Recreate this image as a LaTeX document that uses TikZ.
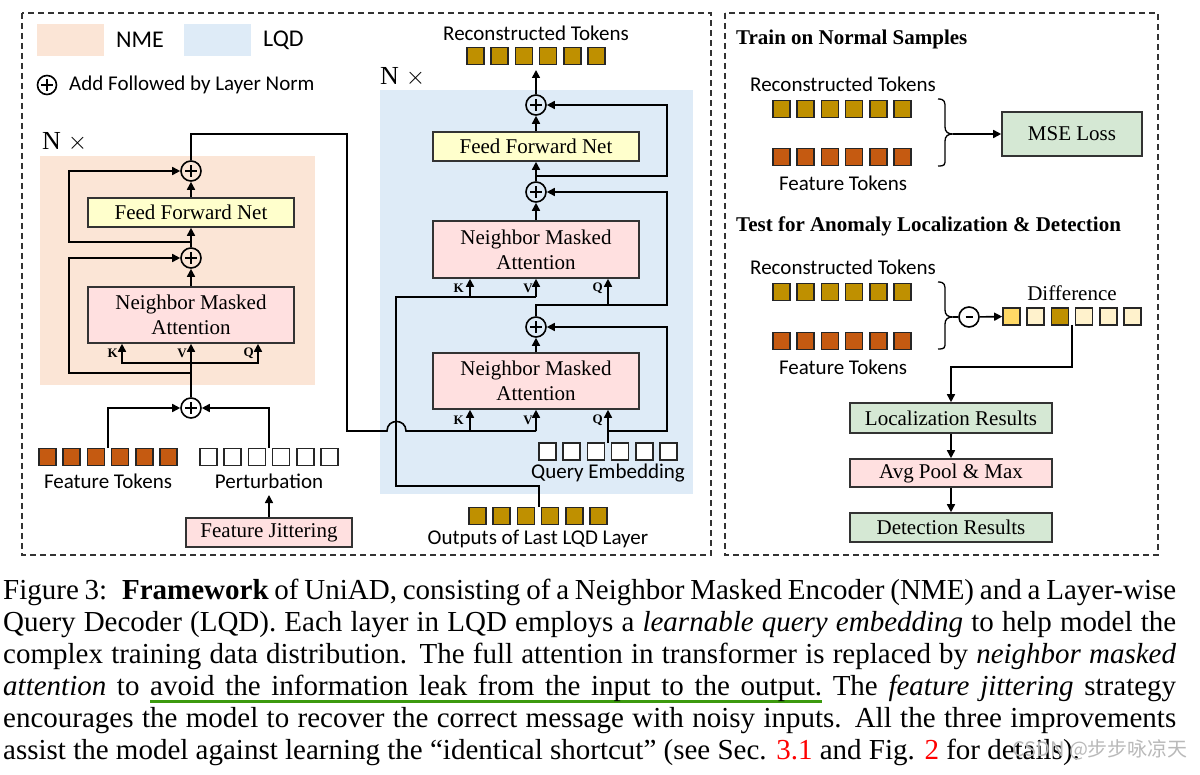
\documentclass[tikz,border=0pt]{standalone}
\usepackage{fontspec}
\setmainfont{Liberation Serif}
\newfontfamily\calib{Carlito}
\newfontfamily\cjkf{Noto Sans CJK SC}
\usetikzlibrary{arrows.meta}
\definecolor{nmebg}{HTML}{FBE5D6}
\definecolor{lqdbg}{HTML}{DEEBF7}
\definecolor{ffn}{HTML}{FFFFCC}
\definecolor{nma}{HTML}{FFE0E0}
\definecolor{gold}{HTML}{BF9000}
\definecolor{orng}{HTML}{C55A11}
\definecolor{grn}{HTML}{D5E8D4}
\definecolor{diffa}{HTML}{FFD966}
\definecolor{diffb}{HTML}{FFF2CC}
\definecolor{ulgreen}{HTML}{3C9A0E}
\newsavebox\ulbox
\newcommand\uw[1]{\sbox\ulbox{#1}\rlap{\textcolor{ulgreen}{\rule[-7pt]{\wd\ulbox}{3pt}}}\usebox\ulbox}
\newcommand\us{{\color{ulgreen}\leaders\hrule height -4pt depth 7pt\hskip\fontdimen2\font plus\fontdimen3\font minus\fontdimen4\font}}
\newcommand\tokrow[4]{\foreach \i in {1,...,6}{\node[tok,fill=#4] (#1\i) at ({#2+8.5+(\i-1)*24.2},#3) {};}}
\tikzset{
 ln/.style={line width=1.6pt, draw=black},
 arr/.style={ln, -{Triangle[length=8pt,width=8pt]}},
 box/.style={draw=black!80, line width=1.6pt, inner sep=0pt, font=\fontsize{21}{25}\selectfont, align=center},
 tok/.style={draw=black!85, line width=1.6pt, minimum size=17pt, inner sep=0pt},
 plus/.style={circle, draw, line width=1.6pt, minimum size=20pt, inner sep=0pt,
   path picture={\draw[line width=1.7pt] (path picture bounding box.center) ++(-6pt,0) -- ++(12pt,0) (path picture bounding box.center) ++(0,-6pt) -- ++(0,12pt);}},
 minus/.style={circle, draw, line width=1.6pt, minimum size=20pt, inner sep=0pt,
   path picture={\draw[line width=1.8pt] (path picture bounding box.center) ++(-3.5pt,0) -- ++(7pt,0);}},
 lbl/.style={font=\calib\fontsize{21}{24}\selectfont, inner sep=0pt},
 kv/.style={font=\bfseries\fontsize{13}{14}\selectfont, inner sep=0pt},
 nx/.style={font=\fontsize{26}{28}\selectfont, inner sep=0pt},
 frame/.style={draw=black!80, line width=1.3pt, dash pattern=on 6pt off 4pt},
 head/.style={font=\bfseries\fontsize{21}{24}\selectfont, inner sep=0pt},
}
\begin{document}
\begin{tikzpicture}[x=1pt,y=-1pt]
\useasboundingbox (0,0) rectangle (1200,775);
% frames
\draw[frame] (22,13) rectangle (711,555);
\draw[frame] (725,13) rectangle (1158,555);
% backgrounds
\fill[nmebg] (40,156) rectangle (315,385);
\fill[lqdbg] (380,90) rectangle (693,494);
% legend
\fill[nmebg] (37,24) rectangle (104,56);
\node[lbl, font=\calib\fontsize{24}{26}\selectfont, anchor=west] (lnme) at (116,40) {NME};
\fill[lqdbg] (184,24) rectangle (251,56);
\node[lbl, font=\calib\fontsize{24}{26}\selectfont, anchor=west] (llqd) at (263,40) {LQD};
\node[plus, minimum size=19pt] (lplus) at (47,85) {};
\node[lbl, anchor=west] (ladd) at (69,85) {Add Followed by Layer Norm};
% ---------- NME ----------
\node[nx, anchor=west] (nxl) at (42,142) {N\hspace{7pt}$\times$};
\node[plus] (opA) at (191,171) {};
\node[box, fill=ffn, minimum width=206pt, minimum height=29pt] (ffnL) at (191,212.5) {Feed Forward Net};
\node[plus] (opB) at (191,258) {};
\node[box, fill=nma, minimum width=206pt, minimum height=56pt] (nmaL) at (191,315) {Neighbor Masked\\Attention};
\node[plus] (opC) at (191,408) {};
\node[kv, anchor=east] (kL) at (118,353) {K};
\node[kv, anchor=east] (vL) at (187,353) {V};
\node[kv, anchor=east] (qL) at (254,353) {Q};
\coordinate (kvL) at (191,363);
\draw[arr] (opC) -- (nmaL);
\draw[arr] (kvL) -| ([xshift=-69pt]nmaL.south);
\draw[arr] (kvL) -| ([xshift=67pt]nmaL.south);
\coordinate (resB) at (191,373);
\draw[arr] (resB) -- ++(-122,0) |- (opB);
\draw[arr] (nmaL) -- (opB);
\draw[arr] (opB) -- (ffnL);
\coordinate (resA) at (191,242);
\draw[arr] (resA) -- ++(-122,0) |- (opA);
\draw[arr] (ffnL) -- (opA);
% inputs
\tokrow{ft}{39}{457}{orng}
\tokrow{pt}{200}{457}{white}
\node[lbl] (ftl) at (108,481) {Feature Tokens};
\node[lbl] (ptl) at (269,481) {Perturbation};
\node[box, fill=nma, minimum width=166pt, minimum height=29pt] (fj) at (269,532.5) {Feature Jittering};
\coordinate (ftTop) at (108,448);
\coordinate (ptTop) at (269,448);
\coordinate (ptlBot) at (269,495);
\draw[arr] (ftTop) |- (opC);
\draw[arr] (ptTop) |- (opC);
\draw[arr] (fj) -- (ptlBot);
% ---------- LQD ----------
\node[nx, anchor=west] (nxr) at (380,77) {N\hspace{7pt}$\times$};
\node[plus] (opF) at (536,105) {};
\node[box, fill=ffn, minimum width=206pt, minimum height=29pt] (ffnR) at (536,146.5) {Feed Forward Net};
\node[plus] (opE) at (536,192) {};
\node[box, fill=nma, minimum width=206pt, minimum height=57pt] (nmaU) at (536,249.5) {Neighbor Masked\\Attention};
\node[plus] (opD) at (536,327) {};
\node[box, fill=nma, minimum width=206pt, minimum height=56pt] (nmaD) at (536,381) {Neighbor Masked\\Attention};
\node[kv, anchor=east] (kU) at (464,288) {K};
\node[kv, anchor=east] (vU) at (533,288) {V};
\node[kv, anchor=east] (qUl) at (603,288) {Q};
\node[kv, anchor=east] (kDl) at (464,420) {K};
\node[kv, anchor=east] (vDl) at (533,420) {V};
\node[kv, anchor=east] (qDl) at (603,420) {Q};
\tokrow{qe}{539}{451.5}{white}
\node[lbl] (qel) at (608,473) {Query Embedding};
\tokrow{ol}{469}{516}{gold}
\node[lbl] (oll) at (538,539) {Outputs of Last LQD Layer};
\tokrow{rt}{467}{56}{gold}
\node[lbl] (rtl) at (536,33) {Reconstructed Tokens};
% connectors LQD
\coordinate (tl) at (347,134);
\coordinate (kvD) at (536,431);
\draw[ln] (opA) |- (tl) -- (347,431) -- (387,431) .. controls (387,418.3) and (406,418.3) .. (406,431) -- (kvD);
\draw[arr] (kvD) -- (nmaD);
\coordinate (kD) at (470,431);
\draw[arr] (kD) -- (kD |- nmaD.south);
\coordinate (qD) at (608,443);
\draw[arr] (qD) -- (qD |- nmaD.south);
\coordinate (qDr) at (608,431);
\draw[arr] (qDr) -- ++(59,0) |- (opD);
\draw[arr] (nmaD) -- (opD);
\coordinate (jD) at (536,305);
\draw[arr] (opD) -- (jD) -- ++(131,0) |- (opE);
\coordinate (qU) at (608,305);
\draw[arr] (qU) -- (qU |- nmaU.south);
\coordinate (olTop) at (539,507);
\coordinate (kvU) at (536,297);
\draw[ln] (olTop) -- (539,486) -| (396,297) -- (kvU);
\draw[arr] (kvU) -- (nmaU);
\coordinate (kUc) at (470,297);
\draw[arr] (kUc) -- (kUc |- nmaU.south);
\draw[arr] (nmaU) -- (opE);
\draw[arr] (opE) -- (ffnR);
\coordinate (resE) at (536,176);
\draw[arr] (resE) -- ++(131,0) |- (opF);
\draw[arr] (ffnR) -- (opF);
\coordinate (rtBot) at (536,70);
\draw[arr] (opF) -- (rtBot);
% ---------- right panel ----------
\node[head, anchor=west] (h1) at (736,39) {Train on Normal Samples};
\node[lbl] (rtAl) at (843,84) {Reconstructed Tokens};
\tokrow{ra}{773}{109}{gold}
\tokrow{fa}{773}{157}{orng}
\node[lbl] (faAl) at (843,183) {Feature Tokens};
\coordinate (brA) at (953,134);
\draw[line width=1.3pt] (938,99) .. controls (945,99) and (945,102) .. (945,108) -- (945,127) .. controls (945,132) and (948,134) .. (brA) .. controls (948,134) and (945,136) .. (945,141) -- (945,159) .. controls (945,165) and (945,166) .. (938,166);
\node[box, fill=grn, minimum width=140pt, minimum height=44pt] (mse) at (1072,134) {MSE Loss};
\draw[arr] (brA) -- (mse);
\node[head, anchor=west] (h2) at (736,226) {Test for Anomaly Localization \& Detection};
\node[lbl] (rtBl) at (843,267) {Reconstructed Tokens};
\tokrow{rb}{773}{292}{gold}
\tokrow{fb}{773}{341}{orng}
\node[lbl] (fbl) at (843,367) {Feature Tokens};
\coordinate (brB) at (953,317);
\draw[line width=1.3pt] (938,282) .. controls (945,282) and (945,285) .. (945,291) -- (945,310) .. controls (945,315) and (948,317) .. (brB) .. controls (948,317) and (945,319) .. (945,324) -- (945,342) .. controls (945,348) and (945,349) .. (938,349);
\node[minus] (mn) at (969,317) {};
\draw[ln] (brB) -- (mn);
\foreach \i/\c in {1/diffa,2/diffb,3/gold,4/diffb,5/diffb,6/diffb}{\node[tok,fill=\c] (df\i) at ({1003+8.5+(\i-1)*24.2},316.5) {};}
\draw[arr] (mn) -- (df1);
\node[font=\fontsize{21}{24}\selectfont, inner sep=0pt] (dfl) at (1072,293) {Difference};
\node[box, fill=grn, minimum width=202pt, minimum height=30pt] (loc) at (951,418) {Localization Results};
\node[box, fill=nma, minimum width=202pt, minimum height=28pt] (avg) at (951,473) {Avg Pool \& Max};
\node[box, fill=grn, minimum width=202pt, minimum height=29pt] (det) at (951,527.5) {Detection Results};
\coordinate (dBot) at (1072,325);
\coordinate (dTurn) at (1072,367);
\draw[arr] (dBot) -- (dTurn) -| (loc.north);
\draw[arr] (loc) -- (avg);
\draw[arr] (avg) -- (det);
% ---------- caption ----------
\node[anchor=north west, inner sep=0pt, text width=1173pt, align=justify, font=\fontsize{29}{32}\selectfont] (cap) at (3,579) {Figure 3:~ \textbf{Framework} of UniAD, consisting of a Neighbor Masked Encoder (NME) and a Layer-wise\linebreak
Query Decoder (LQD). Each layer in LQD employs a \textit{learnable query embedding} to help model the\linebreak
complex training data distribution. The full attention in transformer is replaced by \textit{neighbor masked}\linebreak
\textit{attention} to \uw{avoid}\us\uw{the}\us\uw{information}\us\uw{leak}\us\uw{from}\us\uw{the}\us\uw{input}\us\uw{to}\us\uw{the}\us\uw{output.} The \textit{feature jittering} strategy\linebreak
encourages the model to recover the correct message with noisy inputs. All the three improvements\linebreak
assist the model against learning the “identical shortcut” (see Sec. \textcolor{red}{3.1} and Fig. \textcolor{red}{2} for details).};
\node[font=\cjkf\fontsize{20}{22}\selectfont, text=gray!55, inner sep=0pt, anchor=west] (wm) at (1012,750) {CSDN @步步咏凉天};
\end{tikzpicture}
\end{document}
